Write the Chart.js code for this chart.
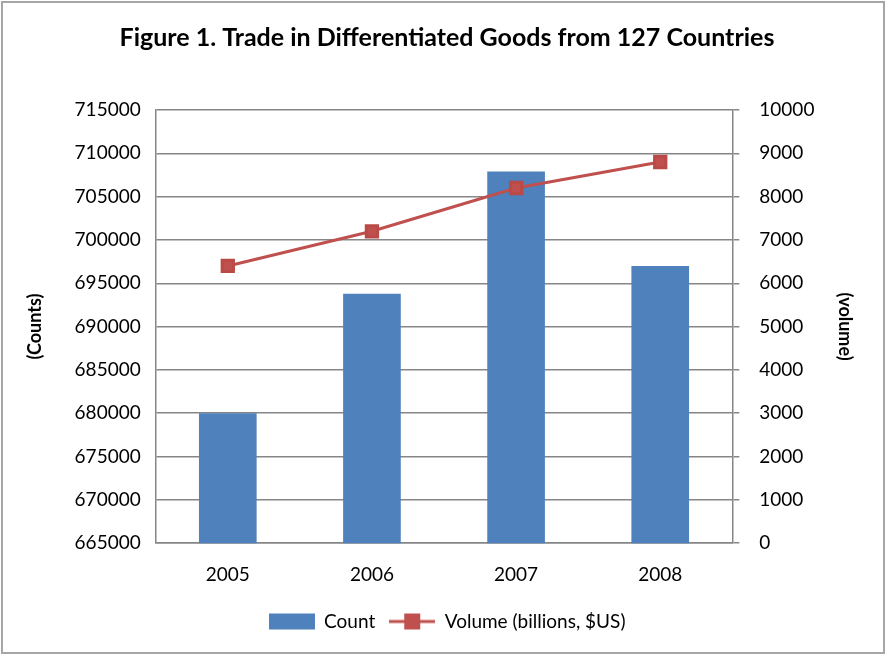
<!DOCTYPE html>
<html>
<head>
<meta charset="utf-8">
<script src="https://cdn.jsdelivr.net/npm/chart.js@4.4.1/dist/chart.umd.min.js"></script>
<style>
  html, body { margin: 0; padding: 0; background: #fff; }
  #wrap { width: 886px; height: 655px; }
</style>
</head>
<body>
<div id="wrap"><canvas id="combo-chart" width="886" height="655"></canvas></div>
<script>
// data
const years = ["2005", "2006", "2007", "2008"];
const counts = [680000, 693800, 707900, 697000];
const volume = [6400, 7200, 8200, 8800];
const countTicks = [665000, 715000, 5000];  // min, max, step
const volumeTicks = [0, 10000, 1000];

const FONT = "Lato, 'Liberation Sans', sans-serif";
const BLUE = "#4f81bd";
const RED = "#c0504d";

// little legend symbols, Excel style
function legendIcon(kind) {
  const cv = document.createElement('canvas');
  cv.width = 46; cv.height = 18;
  const c = cv.getContext('2d');
  if (kind === 'bar') {
    c.fillStyle = BLUE;
    c.fillRect(0, 1, 46, 16);
  } else {
    c.strokeStyle = RED;
    c.lineWidth = 3;
    c.beginPath(); c.moveTo(0, 9); c.lineTo(46, 9); c.stroke();
    c.fillStyle = RED;
    c.fillRect(15, 1, 16, 16);
  }
  return cv;
}
const icons = { bar: legendIcon('bar'), line: legendIcon('line') };

const frame = {
  id: 'frame',
  afterDraw(chart) {
    const c = chart.ctx;
    c.save();
    c.strokeStyle = '#a6a6a6';
    c.lineWidth = 2;
    c.strokeRect(2, 2, chart.width - 4, chart.height - 4);
    c.restore();
  }
};

new Chart(document.getElementById("combo-chart"), {
  data: {
    labels: years,
    datasets: [
      {
        type: 'line',
        label: "Volume (billions, $US)",
        data: volume,
        yAxisID: 'yVol',
        borderColor: RED,
        backgroundColor: RED,
        borderWidth: 3,
        pointStyle: 'rect',
        pointRadius: 8,
        pointHoverRadius: 8,
        pointBackgroundColor: RED,
        pointBorderColor: "#b94a47",
        tension: 0,
        order: 0
      },
      {
        type: 'bar',
        label: "Count",
        data: counts,
        yAxisID: 'yCount',
        backgroundColor: BLUE,
        barPercentage: 0.4,
        categoryPercentage: 1,
        order: 1
      }
    ]
  },
  options: {
    responsive: false,
    animation: false,
    layout: { padding: { left: 24, right: 16, top: 0, bottom: 14 } },
    plugins: {
      title: {
        display: true,
        text: 'Figure 1. Trade in Differentiated Goods from 127 Countries',
        color: '#000',
        font: { family: FONT, size: 25, weight: 'bold' },
        padding: { top: 23, bottom: 57 }
      },
      legend: {
        position: 'bottom',
        reverse: true,
        labels: {
          color: '#000',
          font: { family: FONT, size: 19 },
          usePointStyle: true,
          pointStyleWidth: 46,
          boxHeight: 18,
          padding: 14,
          generateLabels(chart) {
            const items = Chart.defaults.plugins.legend.labels.generateLabels(chart);
            items.forEach(it => {
              const ds = chart.data.datasets[it.datasetIndex];
              it.pointStyle = icons[ds.type];
              it.lineWidth = 0;
            });
            return items;
          }
        }
      },
      tooltip: { enabled: false }
    },
    scales: {
      x: {
        grid: { display: false },
        border: { color: '#868686', width: 1.5 },
        ticks: { color: '#000', font: { family: FONT, size: 19 }, padding: 12 }
      },
      yCount: {
        position: 'left',
        min: countTicks[0],
        max: countTicks[1],
        grid: { color: '#868686', lineWidth: 1.5, drawTicks: false },
        border: { color: '#868686', width: 1.5 },
        ticks: {
          stepSize: countTicks[2],
          color: '#000',
          font: { family: FONT, size: 19 },
          padding: 15,
          callback: v => String(v)
        },
        title: {
          display: true,
          text: '(Counts)',
          color: '#000',
          font: { family: FONT, size: 18, weight: 'bold' },
          padding: { top: 0, bottom: 14 }
        }
      },
      yVol: {
        position: 'right',
        min: volumeTicks[0],
        max: volumeTicks[1],
        grid: { drawOnChartArea: false, color: '#868686', lineWidth: 1.5, tickLength: 7 },
        border: { color: '#868686', width: 1.5 },
        ticks: {
          stepSize: volumeTicks[2],
          color: '#000',
          font: { family: FONT, size: 19 },
          padding: 20,
          callback: v => String(v)
        },
        title: {
          display: true,
          text: '(volume)',
          color: '#000',
          font: { family: FONT, size: 18, weight: 'bold' },
          padding: { top: 14, bottom: 0 }
        }
      }
    }
  },
  plugins: [frame]
});
</script>
</body>
</html>
